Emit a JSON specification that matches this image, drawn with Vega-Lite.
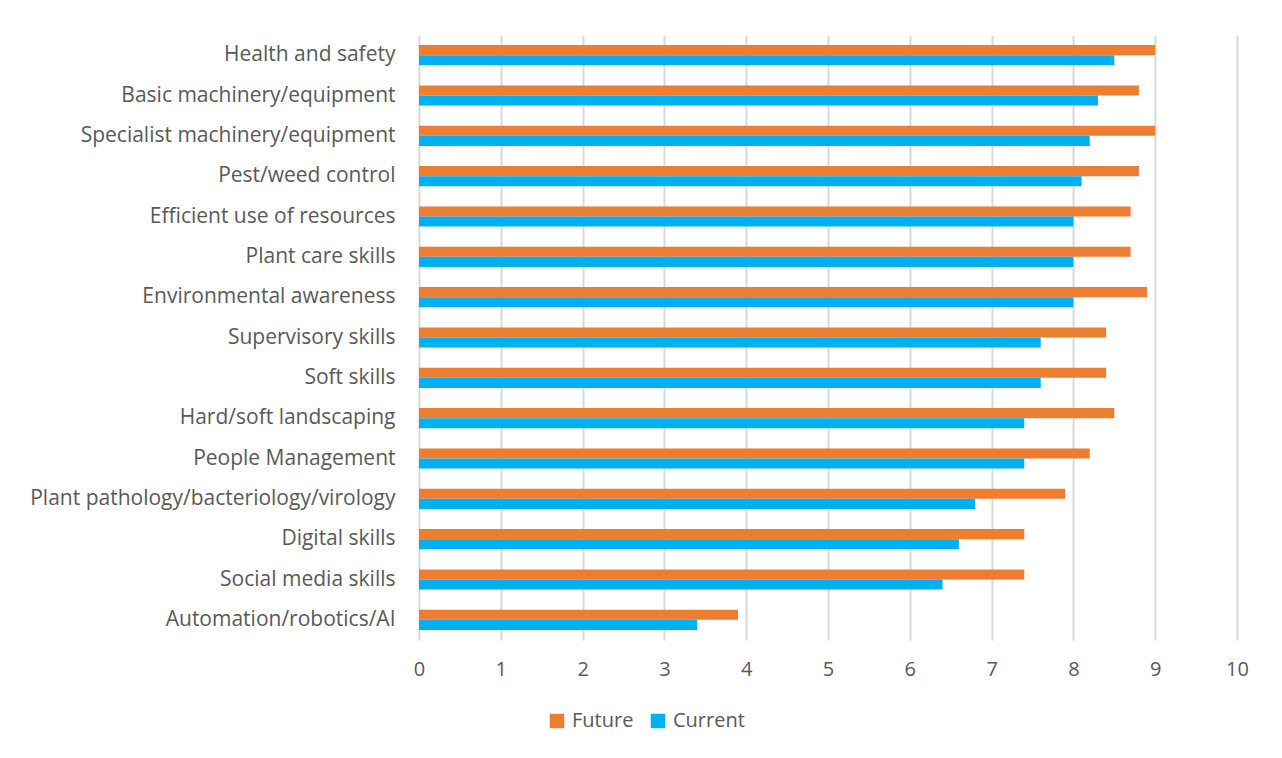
{
  "$schema": "https://vega.github.io/schema/vega-lite/v6.json",
  "width": 818,
  "height": 605,
  "autosize": {"type": "none"},
  "padding": {"left": 419, "top": 35, "right": 45, "bottom": 118},
  "background": "white",
  "data": {
    "values": [
      {"skill": "Health and safety", "series": "Future", "value": 9.0},
      {"skill": "Health and safety", "series": "Current", "value": 8.5},
      {"skill": "Basic machinery/equipment", "series": "Future", "value": 8.8},
      {"skill": "Basic machinery/equipment", "series": "Current", "value": 8.3},
      {"skill": "Specialist machinery/equipment", "series": "Future", "value": 9.0},
      {"skill": "Specialist machinery/equipment", "series": "Current", "value": 8.2},
      {"skill": "Pest/weed control", "series": "Future", "value": 8.8},
      {"skill": "Pest/weed control", "series": "Current", "value": 8.1},
      {"skill": "Efficient use of resources", "series": "Future", "value": 8.7},
      {"skill": "Efficient use of resources", "series": "Current", "value": 8.0},
      {"skill": "Plant care skills", "series": "Future", "value": 8.7},
      {"skill": "Plant care skills", "series": "Current", "value": 8.0},
      {"skill": "Environmental awareness", "series": "Future", "value": 8.9},
      {"skill": "Environmental awareness", "series": "Current", "value": 8.0},
      {"skill": "Supervisory skills", "series": "Future", "value": 8.4},
      {"skill": "Supervisory skills", "series": "Current", "value": 7.6},
      {"skill": "Soft skills ", "series": "Future", "value": 8.4},
      {"skill": "Soft skills ", "series": "Current", "value": 7.6},
      {"skill": "Hard/soft landscaping", "series": "Future", "value": 8.5},
      {"skill": "Hard/soft landscaping", "series": "Current", "value": 7.4},
      {"skill": "People Management", "series": "Future", "value": 8.2},
      {"skill": "People Management", "series": "Current", "value": 7.4},
      {"skill": "Plant pathology/bacteriology/virology", "series": "Future", "value": 7.9},
      {"skill": "Plant pathology/bacteriology/virology", "series": "Current", "value": 6.8},
      {"skill": "Digital skills", "series": "Future", "value": 7.4},
      {"skill": "Digital skills", "series": "Current", "value": 6.6},
      {"skill": "Social media skills", "series": "Future", "value": 7.4},
      {"skill": "Social media skills", "series": "Current", "value": 6.4},
      {"skill": "Automation/robotics/AI", "series": "Future", "value": 3.9},
      {"skill": "Automation/robotics/AI", "series": "Current", "value": 3.4}
    ]
  },
  "mark": {"type": "bar"},
  "encoding": {
    "y": {
      "field": "skill",
      "type": "nominal",
      "sort": null,
      "scale": {"paddingInner": 0.5, "paddingOuter": 0.25},
      "axis": {
        "title": null,
        "domain": false,
        "ticks": false,
        "labelPadding": 24,
        "labelFontSize": 21,
        "labelColor": "#595959",
        "labelFont": "Open Sans",
        "labelLimit": 420
      }
    },
    "yOffset": {
      "field": "series",
      "type": "nominal",
      "sort": ["Future", "Current"],
      "scale": {"paddingInner": 0, "paddingOuter": 0}
    },
    "x": {
      "field": "value",
      "type": "quantitative",
      "scale": {"domain": [0, 10], "nice": false},
      "axis": {
        "title": null,
        "values": [0, 1, 2, 3, 4, 5, 6, 7, 8, 9, 10],
        "domain": false,
        "ticks": false,
        "grid": true,
        "gridColor": "#d9d9d9",
        "gridWidth": 2,
        "labelFlush": false,
        "labelPadding": 19,
        "labelFontSize": 20,
        "labelColor": "#595959",
        "labelFont": "Open Sans"
      }
    },
    "color": {
      "field": "series",
      "type": "nominal",
      "sort": ["Future", "Current"],
      "scale": {"domain": ["Future", "Current"], "range": ["#ED7D31", "#00B0F0"]},
      "legend": {
        "title": null,
        "orient": "none",
        "direction": "horizontal",
        "legendX": 128,
        "legendY": 676,
        "symbolType": "square",
        "symbolSize": 210,
        "symbolStrokeWidth": 0,
        "labelFontSize": 20,
        "labelColor": "#595959",
        "labelFont": "Open Sans",
        "labelOffset": 5,
        "columnPadding": 14,
        "symbolOffset": 0
      }
    }
  },
  "config": {
    "view": {"stroke": null}
  }
}
